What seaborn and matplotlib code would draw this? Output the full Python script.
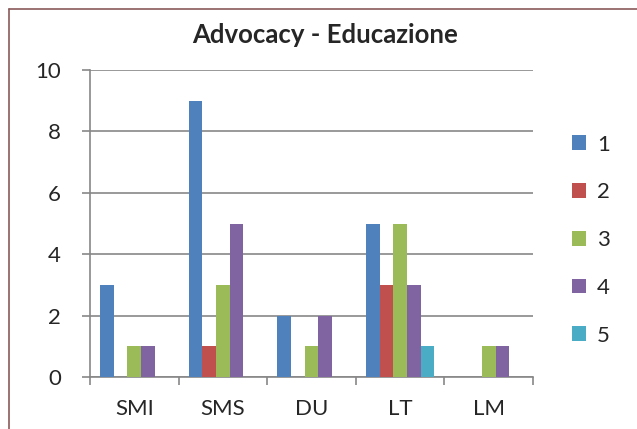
import pandas as pd
import matplotlib.pyplot as plt
import seaborn as sns
from matplotlib.lines import Line2D

# Dati del grafico
categorie = ["SMI", "SMS", "DU", "LT", "LM"]
serie = ["1", "2", "3", "4", "5"]
valori_1 = [3, 9, 2, 5, 0]
valori_2 = [0, 1, 0, 3, 0]
valori_3 = [1, 3, 1, 5, 1]
valori_4 = [1, 5, 2, 3, 1]
valori_5 = [0, 0, 0, 1, 0]

colori = ["#4F81BD", "#C0504D", "#9BBB59", "#8064A2", "#4BACC6"]

righe = []
for s, vals in zip(serie, [valori_1, valori_2, valori_3, valori_4, valori_5]):
    for c, v in zip(categorie, vals):
        righe.append({"Categoria": c, "Serie": s, "Valore": v})
df = pd.DataFrame(righe)

sns.set_style("white")
plt.rcParams['font.family'] = ['Lato', 'DejaVu Sans']

fig = plt.figure(figsize=(6.37, 4.29), dpi=100)
ax = fig.add_axes([90 / 637, 1 - 377 / 429, 443 / 637, 307 / 429])

sns.barplot(data=df, x="Categoria", y="Valore", hue="Serie", palette=colori,
            width=5 / 6.5, linewidth=0, saturation=1, ax=ax, zorder=3)

ax.set_ylim(0, 10)
ax.set_xlim(-0.5, 4.5)
ax.set_yticks([0, 2, 4, 6, 8, 10])
ax.yaxis.grid(True, color="#878787", linewidth=1.2, zorder=0)
ax.set_axisbelow(True)
ax.set_xlabel("")
ax.set_ylabel("")

for lato in ["top", "right"]:
    ax.spines[lato].set_visible(False)
ax.spines["left"].set_color("#878787")
ax.spines["bottom"].set_color("#878787")
ax.spines["left"].set_linewidth(1.2)
ax.spines["bottom"].set_linewidth(1.2)

# tacche tra le categorie
ax.set_xticks([-0.5, 0.5, 1.5, 2.5, 3.5, 4.5], minor=False)
ax.set_xticklabels([])
ax.set_xticks(range(5), minor=True)
ax.set_xticklabels(categorie, minor=True, fontsize=16)
ax.tick_params(axis="x", which="major", length=6, color="#878787", width=1.2,
               direction="out", bottom=True)
ax.tick_params(axis="x", which="minor", length=0, pad=16)
ax.tick_params(axis="y", length=6, color="#878787", width=1.2, direction="out",
               left=True, labelsize=16, pad=15)

fig.text(325 / 637, 1 - 35 / 429, "Advocacy - Educazione", fontsize=18.5,
         fontweight="bold", ha="center", va="center")

ax.legend(loc="center left", bbox_to_anchor=(1.042, 0.446), frameon=False,
          fontsize=16, handlelength=0.65, handleheight=0.65, labelspacing=1.25,
          handletextpad=0.5)

# bordo del riquadro (solo sinistra e in alto)
fig.add_artist(Line2D([9 / 637, 9 / 637], [0, 1 - 9 / 429], color="#8B5A5A", linewidth=1.2))
fig.add_artist(Line2D([9 / 637, 1], [1 - 9 / 429, 1 - 9 / 429], color="#8B5A5A", linewidth=1.2))

fig.savefig("out.png", dpi=100)
